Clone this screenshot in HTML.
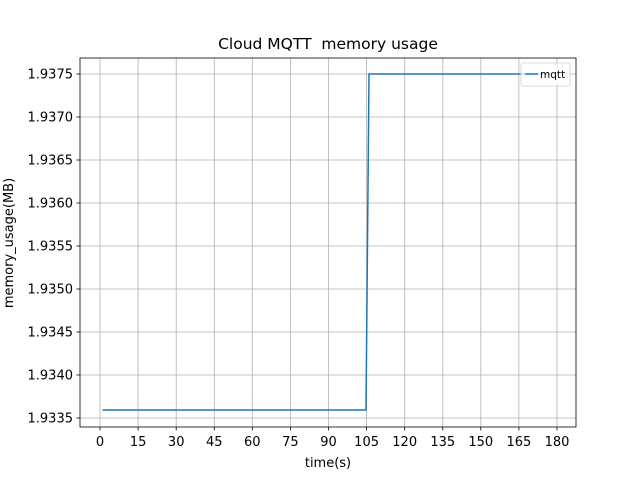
<!DOCTYPE html>
<html><head><style>body{margin:0;background:#fff}svg{display:block}</style></head><body>
<svg width="640" height="480" xmlns="http://www.w3.org/2000/svg" font-family="DejaVu Sans, Liberation Sans, sans-serif">
<rect width="640" height="480" fill="#fff"/>
<g stroke="#b0b0b0" stroke-width="0.8">
<line x1="100" y1="58" x2="100" y2="427"/><line x1="138.1" y1="58" x2="138.1" y2="427"/><line x1="176.2" y1="58" x2="176.2" y2="427"/><line x1="214.3" y1="58" x2="214.3" y2="427"/><line x1="252.3" y1="58" x2="252.3" y2="427"/><line x1="290.4" y1="58" x2="290.4" y2="427"/><line x1="328.5" y1="58" x2="328.5" y2="427"/><line x1="366.6" y1="58" x2="366.6" y2="427"/><line x1="404.7" y1="58" x2="404.7" y2="427"/><line x1="442.8" y1="58" x2="442.8" y2="427"/><line x1="480.8" y1="58" x2="480.8" y2="427"/><line x1="518.9" y1="58" x2="518.9" y2="427"/><line x1="557" y1="58" x2="557" y2="427"/>
<line x1="80" y1="74" x2="576" y2="74"/><line x1="80" y1="117" x2="576" y2="117"/><line x1="80" y1="160" x2="576" y2="160"/><line x1="80" y1="203" x2="576" y2="203"/><line x1="80" y1="246" x2="576" y2="246"/><line x1="80" y1="289" x2="576" y2="289"/><line x1="80" y1="332" x2="576" y2="332"/><line x1="80" y1="375" x2="576" y2="375"/><line x1="80" y1="418" x2="576" y2="418"/>
</g>
<polyline points="102.5,410 366,410 369,74 553.6,74" fill="none" stroke="#1f77b4" stroke-width="1.5"/>
<rect x="80" y="58" width="496" height="369" fill="none" stroke="#000" stroke-width="0.8"/>
<g stroke="#000" stroke-width="0.8">
<line x1="100" y1="427" x2="100" y2="430.5"/><line x1="138.1" y1="427" x2="138.1" y2="430.5"/><line x1="176.2" y1="427" x2="176.2" y2="430.5"/><line x1="214.3" y1="427" x2="214.3" y2="430.5"/><line x1="252.3" y1="427" x2="252.3" y2="430.5"/><line x1="290.4" y1="427" x2="290.4" y2="430.5"/><line x1="328.5" y1="427" x2="328.5" y2="430.5"/><line x1="366.6" y1="427" x2="366.6" y2="430.5"/><line x1="404.7" y1="427" x2="404.7" y2="430.5"/><line x1="442.8" y1="427" x2="442.8" y2="430.5"/><line x1="480.8" y1="427" x2="480.8" y2="430.5"/><line x1="518.9" y1="427" x2="518.9" y2="430.5"/><line x1="557" y1="427" x2="557" y2="430.5"/>
<line x1="76.5" y1="74" x2="80" y2="74"/><line x1="76.5" y1="117" x2="80" y2="117"/><line x1="76.5" y1="160" x2="80" y2="160"/><line x1="76.5" y1="203" x2="80" y2="203"/><line x1="76.5" y1="246" x2="80" y2="246"/><line x1="76.5" y1="289" x2="80" y2="289"/><line x1="76.5" y1="332" x2="80" y2="332"/><line x1="76.5" y1="375" x2="80" y2="375"/><line x1="76.5" y1="418" x2="80" y2="418"/>
</g>
<g font-size="13" fill="#000" text-anchor="middle">
<text x="100" y="446">0</text><text x="138.1" y="446">15</text><text x="176.2" y="446">30</text><text x="214.3" y="446">45</text><text x="252.3" y="446">60</text><text x="290.4" y="446">75</text><text x="328.5" y="446">90</text><text x="366.6" y="446">105</text><text x="404.7" y="446">120</text><text x="442.8" y="446">135</text><text x="480.8" y="446">150</text><text x="518.9" y="446">165</text><text x="557" y="446">180</text>
</g>
<g font-size="13" fill="#000" text-anchor="end">
<text x="73" y="78.5">1.9375</text><text x="73" y="121.5">1.9370</text><text x="73" y="164.5">1.9365</text><text x="73" y="207.5">1.9360</text><text x="73" y="250.5">1.9355</text><text x="73" y="293.5">1.9350</text><text x="73" y="336.5">1.9345</text><text x="73" y="379.5">1.9340</text><text x="73" y="422.5">1.9335</text>
</g>
<text x="328" y="467" font-size="13" text-anchor="middle">time(s)</text>
<text transform="translate(13,243) rotate(-90)" font-size="13" text-anchor="middle">memory_usage(MB)</text>
<text x="328" y="49" font-size="15.5" text-anchor="middle">Cloud MQTT&#160; memory usage</text>
<rect x="521" y="63" width="49" height="23" rx="2" fill="#fff" fill-opacity="0.8" stroke="#d0d0d0" stroke-width="0.8"/>
<line x1="525" y1="74" x2="538" y2="74" stroke="#1f77b4" stroke-width="1.5"/>
<text x="540" y="78" font-size="10.5">mqtt</text>
</svg>
</body></html>
